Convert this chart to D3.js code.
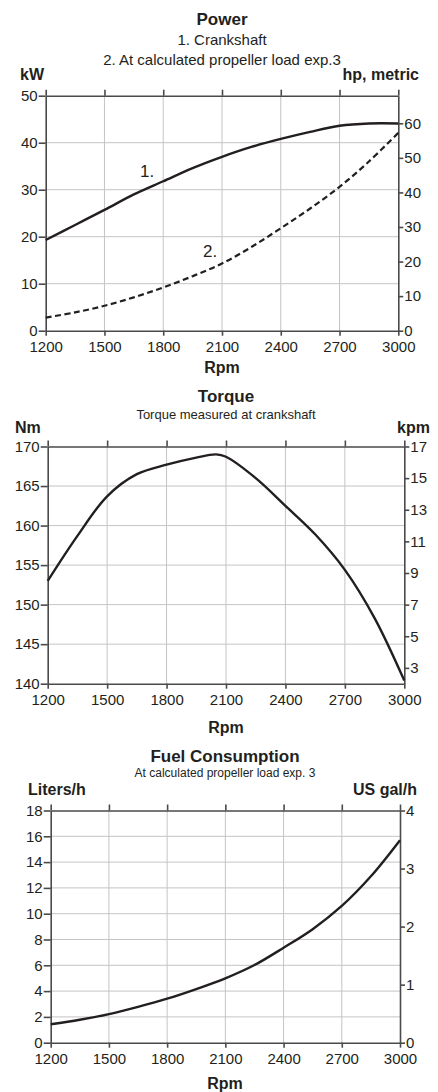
<!DOCTYPE html>
<html>
<head>
<meta charset="utf-8">
<script src="https://cdn.jsdelivr.net/npm/d3@7"></script>
<style>
  body { margin: 0; background: #fff; }
  svg { display: block; font-family: "Liberation Sans", Arial, sans-serif; }
  .grid line { stroke: #c4c4c4; stroke-width: 1; }
  .axis path, .axis line { stroke: #4a4a4a; stroke-width: 1.6; }
  .axis text { fill: #231f20; font-size: 15px; }
</style>
</head>
<body>
<svg id="vis"></svg>
<script>
// rpm steps
var rpm = [1200, 1350, 1500, 1650, 1800, 1950, 2100, 2250, 2400, 2550, 2700, 2850, 3000];
var rpmTicks = [1200, 1500, 1800, 2100, 2400, 2700, 3000];

// power, kW
var powerCrankshaft = [19.3, 22.5, 25.7, 29.0, 31.8, 34.6, 37.0, 39.1, 40.8, 42.3, 43.6, 44.1, 44.1];
var powerPropeller = [2.8, 3.9, 5.3, 7.1, 9.2, 11.6, 14.3, 17.8, 21.8, 26.0, 30.6, 36.0, 42.1];
var kwTicks = [0, 10, 20, 30, 40, 50];
var hpTicks = [0, 10, 20, 30, 40, 50, 60];

// torque, Nm
var torqueRpm = [1200, 1350, 1500, 1650, 1800, 1950, 2050, 2100, 2250, 2400, 2550, 2700, 2850, 3000];
var torqueNm = [153.0, 158.7, 163.7, 166.5, 167.7, 168.6, 169.0, 168.7, 166.0, 162.5, 158.9, 154.4, 148.3, 140.4];
var nmTicks = [140, 145, 150, 155, 160, 165, 170];
var kpmTicks = [3, 5, 7, 9, 11, 13, 15, 17];

// fuel, litres per hour
var fuelLiters = [1.43, 1.78, 2.22, 2.78, 3.41, 4.16, 4.99, 6.02, 7.36, 8.8, 10.6, 12.9, 15.7];
var literTicks = [0, 2, 4, 6, 8, 10, 12, 14, 16, 18];
var galTicks = [0, 1, 2, 3, 4];

var width = 438, height = 1092;
var svg = d3.select('#vis').attr('width', width).attr('height', height);
var ink = '#231f20';
var fmt = d3.format('d');

function drawChart(c) {
    var g = svg.append('g');
    var x = d3.scaleLinear().domain([1200, 3000]).range([c.left, c.right]);
    var y = d3.scaleLinear().domain(c.yDomain).range([c.bottom, c.top]);
    var y2 = d3.scaleLinear().domain(c.y2Domain).range([c.bottom, c.top]);

    // grid
    var grid = g.append('g').attr('class', 'grid');
    grid.selectAll('.gx').data(rpmTicks.slice(1, -1)).enter().append('line')
        .attr('x1', d => x(d)).attr('x2', d => x(d)).attr('y1', c.top).attr('y2', c.bottom);
    grid.selectAll('.gy').data(c.yTicks.slice(1, -1)).enter().append('line')
        .attr('x1', c.left).attr('x2', c.right).attr('y1', d => y(d)).attr('y2', d => y(d));

    // axes
    g.append('g').attr('class', 'axis').attr('transform', 'translate(0,' + c.bottom + ')')
        .call(d3.axisBottom(x).tickValues(rpmTicks).tickFormat(fmt).tickSize(5).tickSizeOuter(0).tickPadding(6))
        .selectAll('text').attr('dy', '0.71em');
    g.append('g').attr('class', 'axis').attr('transform', 'translate(0,' + c.top + ')')
        .call(d3.axisTop(x).tickValues(rpmTicks).tickSize(6).tickSizeOuter(0).tickFormat(''));
    g.append('g').attr('class', 'axis').attr('transform', 'translate(' + c.left + ',0)')
        .call(d3.axisLeft(y).tickValues(c.yTicks).tickFormat(fmt).tickSize(7).tickSizeOuter(0).tickPadding(1));
    g.append('g').attr('class', 'axis').attr('transform', 'translate(' + c.right + ',0)')
        .call(d3.axisRight(y2).tickValues(c.y2Ticks).tickFormat(fmt).tickSize(5).tickSizeOuter(0).tickPadding(1));

    // titles
    g.append('text').attr('x', c.center).attr('y', c.titleY).attr('text-anchor', 'middle')
        .attr('font-size', 17).attr('font-weight', 'bold').attr('fill', ink).text(c.title);
    c.subtitles.forEach(function(s, i) {
        g.append('text').attr('x', c.center).attr('y', c.subY + i * 20).attr('text-anchor', 'middle')
            .attr('font-size', c.subSize).attr('fill', ink).text(s);
    });
    g.append('text').attr('x', c.unitLeftX).attr('y', c.unitY)
        .attr('font-size', 16).attr('font-weight', 'bold').attr('fill', ink).text(c.unitLeft);
    g.append('text').attr('x', c.unitRightX).attr('y', c.unitY).attr('text-anchor', 'end')
        .attr('font-size', 16).attr('font-weight', 'bold').attr('fill', ink).text(c.unitRight);
    g.append('text').attr('x', c.center).attr('y', c.rpmY).attr('text-anchor', 'middle')
        .attr('font-size', 16).attr('font-weight', 'bold').attr('fill', ink).text('Rpm');

    return {g: g, x: x, y: y};
}

function drawCurve(chart, xs, ys, dash) {
    var line = d3.line()
        .x(function(d, i) { return chart.x(xs[i]); })
        .y(function(d) { return chart.y(d); })
        .curve(d3.curveCatmullRom.alpha(0.5));
    chart.g.append('path').datum(ys).attr('d', line)
        .attr('fill', 'none').attr('stroke', ink)
        .attr('stroke-width', dash ? 2.2 : 2.4)
        .attr('stroke-dasharray', dash ? '6,3.5' : null);
}

// Power
var power = drawChart({
    left: 45.7, right: 398.3, top: 95.7, bottom: 330.7, center: 222,
    yDomain: [0, 50], yTicks: kwTicks, y2Domain: [0, 50 * 1.3596], y2Ticks: hpTicks,
    title: 'Power', titleY: 25, subtitles: ['1. Crankshaft', '2. At calculated propeller load exp.3'],
    subY: 45, subSize: 15,
    unitLeft: 'kW', unitLeftX: 20, unitRight: 'hp, metric', unitRightX: 419, unitY: 80,
    rpmY: 373
});
drawCurve(power, rpm, powerCrankshaft, false);
drawCurve(power, rpm, powerPropeller, true);
power.g.append('text').attr('x', 140).attr('y', 177).attr('font-size', 17).attr('fill', ink).text('1.');
power.g.append('text').attr('x', 203).attr('y', 257).attr('font-size', 17).attr('fill', ink).text('2.');

// Torque
var torque = drawChart({
    left: 47.7, right: 404.3, top: 446.5, bottom: 683.7, center: 226,
    yDomain: [140, 170], yTicks: nmTicks, y2Domain: [2, 17], y2Ticks: kpmTicks,
    title: 'Torque', titleY: 401.5, subtitles: ['Torque measured at crankshaft'],
    subY: 419, subSize: 13,
    unitLeft: 'Nm', unitLeftX: 15, unitRight: 'kpm', unitRightX: 430, unitY: 433,
    rpmY: 733
});
drawCurve(torque, torqueRpm, torqueNm, false);

// Fuel consumption
var fuel = drawChart({
    left: 50.7, right: 400, top: 810.5, bottom: 1042.7, center: 225,
    yDomain: [0, 18], yTicks: literTicks, y2Domain: [0, 4], y2Ticks: galTicks,
    title: 'Fuel Consumption', titleY: 761.5, subtitles: ['At calculated propeller load exp. 3'],
    subY: 777, subSize: 12,
    unitLeft: 'Liters/h', unitLeftX: 28, unitRight: 'US gal/h', unitRightX: 417, unitY: 795,
    rpmY: 1089
});
drawCurve(fuel, rpm, fuelLiters, false);
</script>
</body>
</html>
